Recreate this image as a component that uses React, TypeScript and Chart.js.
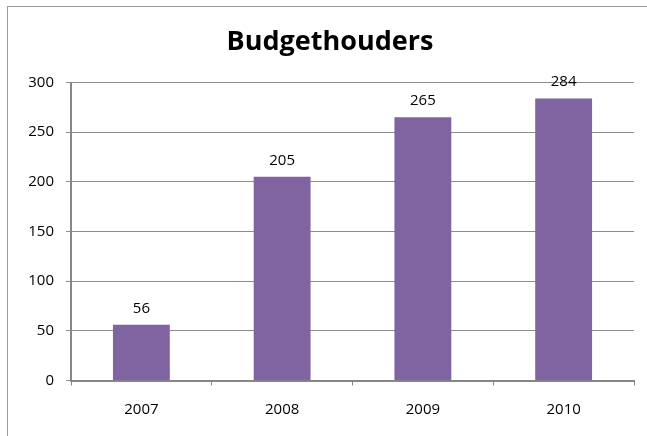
import React, { useEffect, useRef } from "react";
import { Chart, registerables } from "chart.js";

Chart.register(...registerables);

const TITLE = "Budgethouders";
const CATEGORIES = ["2007", "2008", "2009", "2010"];
const VALUES = [56, 205, 265, 284];
const Y_MIN = 0;
const Y_MAX = 300;
const Y_STEP = 50;

const FONT = "'Open Sans', 'Noto Sans', sans-serif";

const titlePlugin = {
  id: "customTitle",
  afterDraw(chart: any) {
    const ctx = chart.ctx;
    ctx.save();
    ctx.font = `bold 27px ${FONT}`;
    ctx.fillStyle = "#000000";
    ctx.textAlign = "center";
    ctx.textBaseline = "alphabetic";
    ctx.fillText(TITLE, 330, 50);
    ctx.restore();
  },
};

const valueLabelPlugin = {
  id: "valueLabels",
  afterDatasetsDraw(chart: any) {
    const ctx = chart.ctx;
    ctx.save();
    ctx.font = `15px ${FONT}`;
    ctx.fillStyle = "#000000";
    ctx.textAlign = "center";
    ctx.textBaseline = "middle";
    chart.data.datasets.forEach((ds: any, di: number) => {
      const meta = chart.getDatasetMeta(di);
      meta.data.forEach((el: any, i: number) => {
        ctx.fillText(String(ds.data[i]), el.x, el.y - 16.5);
      });
    });
    ctx.restore();
  },
};

export default function App() {
  const ref = useRef<HTMLCanvasElement | null>(null);

  useEffect(() => {
    if (!ref.current) return;
    const chart = new Chart(ref.current, {
      type: "bar",
      data: {
        labels: CATEGORIES,
        datasets: [
          {
            data: VALUES,
            backgroundColor: "#8064A2",
            borderWidth: 0,
            barPercentage: 0.404,
            categoryPercentage: 1,
          },
        ],
      },
      options: {
        animation: false,
        responsive: false,
        maintainAspectRatio: false,
        devicePixelRatio: 1,
        layout: { padding: { left: 0, right: 13, top: 82.5, bottom: 0 } },
        plugins: {
          legend: { display: false },
          title: { display: false },
          tooltip: { enabled: false },
        },
        scales: {
          x: {
            afterFit(scale: any) {
              scale.height = 55.5;
            },
            grid: {
              offset: true,
              drawOnChartArea: false,
              drawTicks: true,
              tickLength: 5,
              color: "#868686",
              lineWidth: 1,
            },
            border: { display: true, color: "#868686", width: 2 },
            ticks: {
              color: "#000000",
              font: { family: FONT, size: 15 },
              padding: 15,
              maxRotation: 0,
            },
          },
          y: {
            min: Y_MIN,
            max: Y_MAX,
            afterFit(scale: any) {
              scale.width = 71;
            },
            grid: {
              drawTicks: true,
              tickLength: 5,
              color: "#8c8c8c",
              lineWidth: 1,
            },
            border: { display: true, color: "#868686", width: 2 },
            ticks: {
              stepSize: Y_STEP,
              color: "#000000",
              font: { family: FONT, size: 15 },
              padding: 12,
            },
          },
        },
      },
      plugins: [titlePlugin, valueLabelPlugin],
    });
    return () => chart.destroy();
  }, []);

  return (
    <div
      style={{
        position: "absolute",
        left: 0,
        top: 0,
        width: 647,
        height: 436,
        overflow: "hidden",
        background: "#ffffff",
      }}
    >
      <div
        style={{
          position: "absolute",
          left: 7,
          top: 6,
          width: 700,
          height: 500,
          borderTop: "1px solid #9a9a9a",
          borderLeft: "1px solid #9a9a9a",
        }}
      />
      <canvas
        ref={ref}
        width={647}
        height={436}
        style={{ position: "absolute", left: 0, top: 0, width: 647, height: 436 }}
      />
    </div>
  );
}
